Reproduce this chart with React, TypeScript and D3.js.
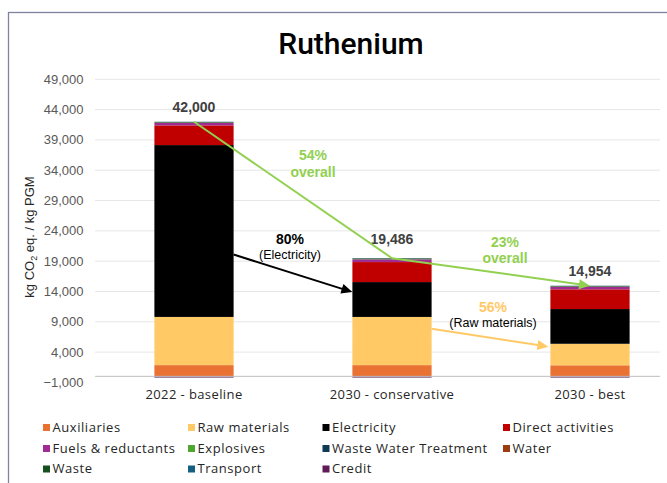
import React from "react";
import * as d3 from "d3";

const categories = ["2022 - baseline", "2030 - conservative", "2030 - best"];
const seriesNames = [
  "Auxiliaries", "Raw materials", "Electricity", "Direct activities",
  "Fuels & reductants", "Explosives", "Waste Water Treatment", "Water",
  "Waste", "Transport", "Credit",
];
const seriesColors = [
  "#E97132", "#FFC966", "#000000", "#C00000",
  "#A02B93", "#4EA72E", "#0E3A55", "#9C3D11",
  "#17501F", "#156082", "#5F1A57",
];
const auxiliaries = [1850, 1850, 1820];
const rawMaterials = [7950, 7950, 3550];
const electricity = [28350, 5750, 5730];
const directActivities = [3250, 3300, 3250];
const fuelsReductants = [400, 430, 400];
const explosives = [20, 20, 20];
const wasteWaterTreatment = [30, 30, 30];
const water = [20, 20, 20];
const waste = [100, 110, 100];
const transport = [30, 30, 30];
const credit = [-200, -200, -200];
const totals = [42000, 19486, 14954];
const totalLabels = ["42,000", "19,486", "14,954"];
const yTicks = [-1000, 4000, 9000, 14000, 19000, 24000, 29000, 34000, 39000, 44000, 49000];

// Annotation values (data units)
const overallPct = ["54%", "23%"];
const electricityArrow = { fromValue: 20100, toValue: 13900 };
const rawArrow = { fromValue: 7850, toValue: 4900 };

const W = 667, H = 483;

export default function App() {
  const seriesValues = [
    auxiliaries, rawMaterials, electricity, directActivities, fuelsReductants,
    explosives, wasteWaterTreatment, water, waste, transport, credit,
  ];
  const rows = categories.map((c, i) => {
    const r: any = { cat: c };
    seriesNames.forEach((s, k) => (r[s] = seriesValues[k][i]));
    return r;
  });
  const stacked = d3.stack<any>().keys(seriesNames).offset(d3.stackOffsetDiverging)(rows);

  const x = d3.scaleBand<string>().domain(categories).range([95, 689]).paddingInner(0.6).paddingOuter(0.3);
  const y = d3.scaleLinear().domain([-1000, 49000]).range([382.4, 79.3]);
  const fmt = d3.format(",");
  const cx = (i: number) => (x(categories[i]) as number) + x.bandwidth() / 2;
  const left = (i: number) => x(categories[i]) as number;
  const right = (i: number) => (x(categories[i]) as number) + x.bandwidth();

  const arial = "Liberation Sans, Arial, sans-serif";
  const geo = "'Open Sans', sans-serif";

  const arrowHead = (x1: number, y1: number, x2: number, y2: number, color: string) => {
    const ang = Math.atan2(y2 - y1, x2 - x1);
    const L = 11, Wd = 5;
    const bx = x2 - L * Math.cos(ang), by = y2 - L * Math.sin(ang);
    const p = [
      [x2, y2],
      [bx + Wd * Math.sin(ang), by - Wd * Math.cos(ang)],
      [bx - Wd * Math.sin(ang), by + Wd * Math.cos(ang)],
    ];
    return { line: [x1, y1, bx + 2 * Math.cos(ang), by + 2 * Math.sin(ang)], poly: p.map((q) => q.join(",")).join(" "), color };
  };

  const g1 = { x1: cx(0), y1: y(totals[0]), x2: cx(1), y2: y(totals[1]) };
  const g2 = arrowHead(cx(1), y(totals[1]), cx(2), y(totals[2]), "#92D050");
  const bArrow = arrowHead(right(0), y(electricityArrow.fromValue), left(1), y(electricityArrow.toValue), "#000000");
  const yArrow = arrowHead(right(1), y(rawArrow.fromValue), left(2) - 2, y(rawArrow.toValue), "#FFC966");

  const legendCols = [43, 188, 322.5, 503];
  const legendRows = [431.5, 452.5, 473];

  return (
    <svg width={W} height={H} style={{ position: "absolute", left: 0, top: 0, background: "#fff" }}>
      <rect x={8.5} y={12.5} width={720} height={520} fill="#fff" stroke="#7F83A0" strokeWidth={1.3} />
      <text x={351} y={54} textAnchor="middle" fontFamily="Roboto, sans-serif" fontSize={30} fontWeight={500} fill="#000">Ruthenium</text>

      {/* gridlines */}
      {yTicks.filter((t) => t > 0).map((t) => (
        <line key={t} x1={95} x2={660} y1={y(t)} y2={y(t)} stroke="#E6E6E6" strokeWidth={1} />
      ))}
      {yTicks.map((t) => (
        <text key={"l" + t} x={83.5} y={y(t) + 4.5} textAnchor="end" fontFamily={arial} fontSize={13} fill="#595959">{fmt(t)}</text>
      ))}
      <text transform="translate(34,237) rotate(-90)" textAnchor="middle" fontFamily={arial} fontSize={13} fill="#262626">
        kg CO<tspan fontSize={9} dy={3}>2</tspan><tspan dy={-3}> eq. / kg PGM</tspan>
      </text>

      {/* bars */}
      {stacked.map((s, k) => (
        <g key={s.key} fill={seriesColors[k]}>
          {s.map((d, i) => (
            <rect key={i} x={x(categories[i])} width={x.bandwidth()} y={y(Math.max(d[0], d[1]))} height={Math.abs(y(d[0]) - y(d[1]))} />
          ))}
        </g>
      ))}
      <line x1={95} x2={660} y1={y(0)} y2={y(0)} stroke="#BFBFBF" strokeWidth={1} />

      {/* totals */}
      {totals.map((t, i) => (
        <text key={i} x={cx(i)} y={y(t) - [9.5, 14.5, 9.5][i]} textAnchor="middle" fontFamily={arial} fontSize={14} fontWeight="bold" fill="#404040">{totalLabels[i]}</text>
      ))}

      {/* category labels */}
      {categories.map((c, i) => (
        <text key={c} x={cx(i)} y={399} textAnchor="middle" fontFamily={geo} fontSize={13} letterSpacing={0.4} fill="#262626">{c}</text>
      ))}

      {/* annotations */}
      <line x1={g1.x1} y1={g1.y1} x2={g1.x2} y2={g1.y2} stroke="#92D050" strokeWidth={2} />
      {[g2, bArrow, yArrow].map((a, i) => (
        <g key={i}>
          <line x1={a.line[0]} y1={a.line[1]} x2={a.line[2]} y2={a.line[3]} stroke={a.color} strokeWidth={2} />
          <polygon points={a.poly} fill={a.color} />
        </g>
      ))}
      <g fontFamily={arial} textAnchor="middle">
        <text x={313} y={160} fontSize={14} fontWeight="bold" fill="#92D050">{overallPct[0]}</text>
        <text x={313} y={176.5} fontSize={14} fontWeight="bold" fill="#92D050">overall</text>
        <text x={505} y={246.5} fontSize={14} fontWeight="bold" fill="#92D050">{overallPct[1]}</text>
        <text x={505} y={262.5} fontSize={14} fontWeight="bold" fill="#92D050">overall</text>
        <text x={290} y={243.5} fontSize={14} fontWeight="bold" fill="#000">80%</text>
        <text x={290} y={258.5} fontSize={12.5} fill="#000">(Electricity)</text>
        <text x={493} y={312} fontSize={14} fontWeight="bold" fill="#FFC966">56%</text>
        <text x={493} y={326.5} fontSize={12.5} fill="#000">(Raw materials)</text>
      </g>

      {/* legend */}
      {seriesNames.map((n, k) => {
        const col = k % 4, row = Math.floor(k / 4);
        const lx = legendCols[col], ly = legendRows[row];
        return (
          <g key={n}>
            <rect x={lx} y={ly - 7.5} width={7} height={7} fill={seriesColors[k]} />
            <text x={lx + 9.5} y={ly} fontFamily={geo} fontSize={13} letterSpacing={0.55} fill="#262626">{n}</text>
          </g>
        );
      })}
    </svg>
  );
}
